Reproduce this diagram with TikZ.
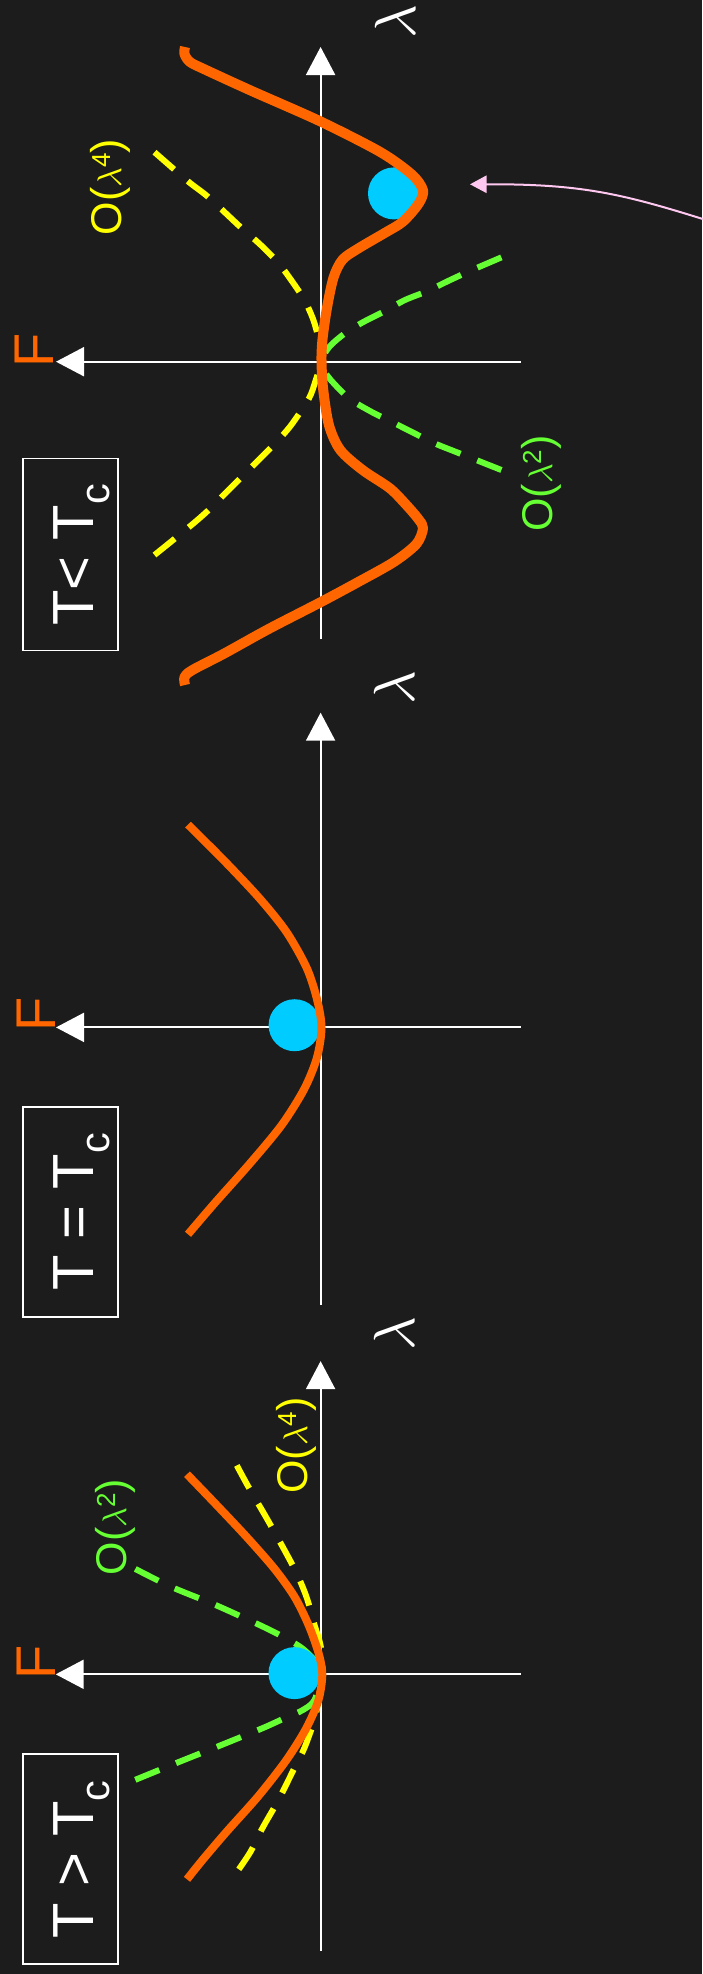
\documentclass[tikz,border=0pt]{standalone}
\usepackage{fontspec}
\setmainfont{Liberation Sans}
\usetikzlibrary{arrows.meta}
\definecolor{bg}{RGB}{28,28,28}
\definecolor{forange}{RGB}{255,102,0}
\definecolor{fcyan}{RGB}{0,204,255}
\definecolor{fyellow}{RGB}{255,255,0}
\definecolor{fgreen}{RGB}{102,255,51}
\definecolor{fpink}{RGB}{255,200,240}
\newcommand{\subc}{\raisebox{-16pt}{\fontsize{41.5}{41.5}\selectfont c}}
\newcommand{\supn}[1]{\raisebox{11pt}{\fontsize{26}{26}\selectfont #1}}
\newcommand{\biglam}{{\fontsize{10}{12}\selectfont\scalebox{5.8}{$\lambda$}}}
\newcommand{\midlam}{{\fontsize{10}{12}\selectfont\scalebox{3.4}{$\lambda$}}}
\begin{document}
\begin{tikzpicture}[x=1pt,y=-1pt,
  axisarrow/.style={draw=white, line width=2pt, -{Triangle[length=28pt,width=29pt]}},
  freecurve/.style={draw=forange, line width=8pt, line join=round},
  quartic/.style={draw=fyellow, line width=6pt, dash pattern=on 26pt off 18pt},
  quadratic/.style={draw=fgreen, line width=6pt, dash pattern=on 26pt off 18pt},
  ball/.style={circle, fill=fcyan, minimum size=52pt, inner sep=0pt},
  flabel/.style={text=forange, rotate=90, anchor=base, inner sep=0pt, font=\fontsize{56}{56}\selectfont},
  lamlabel/.style={text=white, rotate=90, inner sep=0pt},
  tbox/.style={draw=white, line width=1.5pt, inner sep=0pt},
  tlabel/.style={text=white, rotate=90, anchor=base, inner sep=0pt, font=\fontsize{58}{58}\selectfont},
  olabel/.style={rotate=90, anchor=base, inner sep=0pt, font=\fontsize{43}{43}\selectfont},
  pinkarrow/.style={draw=fpink, line width=2pt, -{Triangle[length=16.7pt,width=17.4pt]}}
]
\fill[bg] (0,0) rectangle (702,1974);
\useasboundingbox (0,0) rectangle (702,1974);

% ================= Panel 1 : T < Tc =================
\coordinate (v1b) at (320.6,639.3);
\coordinate (v1t) at (320.6,47);
\coordinate (h1r) at (520.7,361.7);
\coordinate (h1l) at (56,361.7);
\draw[axisarrow] (v1b) -- (v1t);
\draw[axisarrow] (h1r) -- (h1l);
\node[flabel] (F1) at (53.7,350) {F};
\node[lamlabel] (lam1) at (395,22) {\biglam};
\node[tbox, minimum width=95.3pt, minimum height=192.4pt] (box1) at (70.4,554.5) {};
\node[tlabel] (t1) at (93.3,555) {T< T\subc};

\draw[quartic] plot[smooth, tension=0.5] coordinates {(154.5,152.2) (188,181.3) (208.2,197) (241.8,228.3) (259.7,244) (277.6,262) (291,279.8) (304.4,300) (313.4,320) (318.8,340.3) (321.5,361.7)};
\draw[quartic] plot[smooth, tension=0.5] coordinates {(154.5,555) (190.3,526) (208.2,510.4) (223.9,494.7) (244,474.6) (257.4,461.1) (275.3,443.2) (291,425.3) (308.9,398.5) (315.6,380.6) (321.5,361.7)};
\draw[quadratic] plot[smooth, tension=0.5] coordinates {(501.4,257.4) (470,270.9) (447.7,281.2) (427.6,291) (405,300) (385,311) (362.6,322.4) (344.7,333.5) (331.3,344.7) (324.6,353.7) (322,362)};
\draw[quadratic] plot[smooth, tension=0.5] coordinates {(501.4,470) (479,461.1) (456.7,452.2) (434.3,443.2) (411.9,432) (394,423) (371.6,411.9) (349.2,398.5) (331.3,380.6) (324.5,371) (322,362)};
\node[olabel, text=fyellow] (q4a) at (121,187) {O(\midlam\supn{4})};
\node[olabel, text=fgreen] (q2a) at (552,483.5) {O(\midlam\supn{2})};

\node[ball] (dot1) at (394,193.4) {};
\draw[freecurve, line width=10pt] plot[smooth, tension=0.5] coordinates {(185,47) (184.5,54) (190,62) (206,70) (250.7,90.5) (320.6,121.5) (380.6,152.2) (411.9,174.6) (423,190.3) (418.6,203.7) (403,221.6) (385,232.8) (358.2,248.5) (342.5,259.7) (333.5,277.6) (326.8,308.9) (322.4,340.3) (321.5,361.7) (323.2,389.5) (329,425.3) (340.3,450) (362.6,470) (389.5,488) (405.2,503.7) (418.6,519.3) (423,528.3) (416.4,544) (394,561.9) (358.2,582) (320.6,602.2) (268.6,629) (223.9,653.7) (192.5,670) (184.5,677) (185,685)};

\coordinate (pinkstart) at (706,220);
\coordinate (pinktip) at (470,184.3);
\draw[pinkarrow] (pinkstart) .. controls (620,193) and (580,184) .. (pinktip);

% ================= Panel 2 : T = Tc =================
\coordinate (v2b) at (320.6,1304.5);
\coordinate (v2t) at (320.6,712.7);
\coordinate (h2r) at (520.7,1027.4);
\coordinate (h2l) at (56,1027.4);
\draw[axisarrow] (v2b) -- (v2t);
\draw[axisarrow] (h2r) -- (h2l);
\node[flabel] (F2) at (55.5,1014) {F};
\node[lamlabel] (lam2) at (394,688) {\biglam};
\node[tbox, minimum width=95pt, minimum height=210.3pt] (box2) at (70.5,1211.9) {};
\node[tlabel] (t2) at (93.3,1212) {T = T\subc};

\node[ball] (dot2) at (294.6,1025.2) {};
\draw[freecurve] plot[smooth, tension=0.5] coordinates {(188,824.6) (223.9,860.4) (259.7,898.5) (286.5,932) (306.7,967.9) (317,999.2) (321.5,1027.4) (317,1057.4) (304.4,1088.7) (282,1124.6) (250.7,1162.6) (214.9,1202.9) (188,1234.3)};

% ================= Panel 3 : T > Tc =================
\coordinate (v3b) at (320.6,1951);
\coordinate (v3t) at (320.6,1361.1);
\coordinate (h3r) at (520.5,1674.3);
\coordinate (h3l) at (55.7,1674.3);
\draw[axisarrow] (v3b) -- (v3t);
\draw[axisarrow] (h3r) -- (h3l);
\node[flabel] (F3) at (55.5,1662.4) {F};
\node[lamlabel] (lam3) at (394,1334) {\biglam};
\node[tbox, minimum width=95pt, minimum height=210pt] (box3) at (70.4,1859) {};
\node[tlabel] (t3) at (93.3,1859.4) {T > T\subc};

\draw[quartic] plot[smooth, tension=0.5] coordinates {(236.8,1465.4) (248.7,1487.3) (270.6,1525.1) (294.5,1568.9) (306.4,1596.7) (314.4,1624.6) (320.4,1644.5) (322.3,1664.4) (322.3,1674.3)};
\draw[quartic] plot[smooth, tension=0.5] coordinates {(238.8,1869.3) (250.7,1851.4) (262.7,1827.6) (278.6,1799.7) (294.5,1767.8) (304.4,1748) (314.4,1720.1) (318.4,1700.2) (322.3,1674.3)};
\draw[quadratic] plot[smooth, tension=0.5] coordinates {(135.3,1568.9) (171.1,1586.8) (214.9,1604.7) (258.7,1624.6) (282.6,1636.5) (302.5,1648.5) (318.4,1664.4) (322.3,1674.3)};
\draw[quadratic] plot[smooth, tension=0.5] coordinates {(135.3,1779.8) (179.1,1761.9) (218.9,1746) (262.7,1728.1) (286.5,1717.3) (302.5,1710.2) (314.4,1700.2) (322.3,1674.3)};
\node[olabel, text=fyellow] (q4c) at (307,1445.5) {O(\midlam\supn{4})};
\node[olabel, text=fgreen] (q2c) at (126,1527) {O(\midlam\supn{2})};

\node[ball] (dot3) at (294.5,1673.1) {};
\draw[freecurve] plot[smooth, tension=0.5] coordinates {(187,1474.2) (214.9,1503.2) (246.7,1537) (274.6,1568.9) (294.5,1596.7) (308.4,1624.6) (318.4,1652.5) (322.3,1674.3) (318.4,1700.2) (306.4,1728) (286.5,1759.9) (258.7,1795.7) (226.8,1831.5) (203,1859.4) (187,1879.3)};
\end{tikzpicture}
\end{document}
